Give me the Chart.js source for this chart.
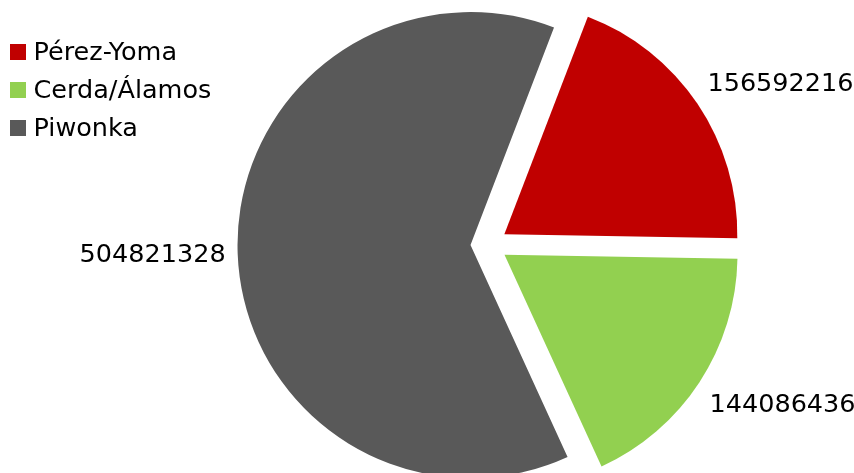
<!DOCTYPE html>
<html>
<head>
<meta charset="utf-8">
<script src="https://cdn.jsdelivr.net/npm/chart.js@4/dist/chart.umd.min.js"></script>
<style>
  html, body { margin: 0; padding: 0; background: #ffffff; }
  #wrap { position: relative; width: 854px; height: 473px; }
</style>
</head>
<body>
<div id="wrap"><canvas id="chart"></canvas></div>
<script>
// Candidates and their totals
const categories = ['Pérez-Yoma', 'Cerda/Álamos', 'Piwonka'];
const totals = [156592216, 144086436, 504821328];
const sliceColors = ['#c00000', '#92d050', '#595959'];

const FONT = '25.5px "DejaVu Sans", sans-serif';

// Pie slice that is pushed out along its mid angle by a fixed distance,
// keeping the same radius for every slice.
class ExplodedArc extends Chart.ArcElement {
  draw(ctx) {
    const {x, y, startAngle, endAngle, outerRadius} =
      this.getProps(['x', 'y', 'startAngle', 'endAngle', 'outerRadius']);
    const o = this.options;
    const mid = (startAngle + endAngle) / 2;
    const shift = o.offset || 0;
    const cx = x + Math.cos(mid) * shift;
    const cy = y + Math.sin(mid) * shift;
    ctx.save();
    ctx.fillStyle = o.backgroundColor;
    ctx.beginPath();
    ctx.moveTo(cx, cy);
    ctx.arc(cx, cy, outerRadius, startAngle, endAngle);
    ctx.closePath();
    ctx.fill();
    ctx.restore();
  }
}
ExplodedArc.id = 'explodedArc';

class ExplodedPie extends Chart.PieController {}
ExplodedPie.id = 'explodedPie';
ExplodedPie.defaults = { dataElementType: 'explodedArc' };

Chart.register(ExplodedArc, ExplodedPie);

// Value labels just outside each slice
const valueLabels = {
  id: 'valueLabels',
  afterDatasetsDraw(chart) {
    const ctx = chart.ctx;
    const meta = chart.getDatasetMeta(0);
    const ds = chart.data.datasets[0];
    ctx.save();
    ctx.font = FONT;
    ctx.fillStyle = '#000000';
    ctx.textBaseline = 'alphabetic';
    meta.data.forEach((arc, i) => {
      const p = arc.getProps(['x', 'y', 'startAngle', 'endAngle', 'outerRadius']);
      const mid = (p.startAngle + p.endAngle) / 2;
      const c = Math.cos(mid), s = Math.sin(mid);
      const shift = arc.options.offset || 0;
      const r = p.outerRadius + 12;
      const ax = p.x + c * (shift + r);
      const ay = p.y + s * (shift + r);
      ctx.textAlign = c >= 0 ? 'left' : 'right';
      ctx.fillText(String(ds.data[i]), ax, ay + 8.75 + s * 26);
    });
    ctx.restore();
  }
};

// Legend with square swatches in the top-left corner
const squareLegend = {
  id: 'squareLegend',
  afterDraw(chart) {
    const ctx = chart.ctx;
    const ds = chart.data.datasets[0];
    ctx.save();
    ctx.font = FONT;
    ctx.textAlign = 'left';
    ctx.textBaseline = 'alphabetic';
    chart.data.labels.forEach((label, i) => {
      const base = 60 + i * 38;
      ctx.fillStyle = ds.backgroundColor[i];
      ctx.fillRect(10, base - 16, 16, 16);
      ctx.fillStyle = '#000000';
      ctx.fillText(label, 33.5, base);
    });
    ctx.restore();
  }
};

new Chart(document.getElementById('chart'), {
  type: 'explodedPie',
  data: {
    labels: categories,
    datasets: [{
      data: totals,
      backgroundColor: sliceColors,
      borderWidth: 0,
      offset: 18.5
    }]
  },
  options: {
    responsive: true,
    maintainAspectRatio: false,
    animation: false,
    rotation: 21,
    radius: 233,
    layout: { padding: { left: 124, top: 16, right: 0, bottom: 0 } },
    events: [],
    plugins: {
      legend: { display: false },
      tooltip: { enabled: false }
    }
  },
  plugins: [valueLabels, squareLegend]
});
</script>
</body>
</html>
